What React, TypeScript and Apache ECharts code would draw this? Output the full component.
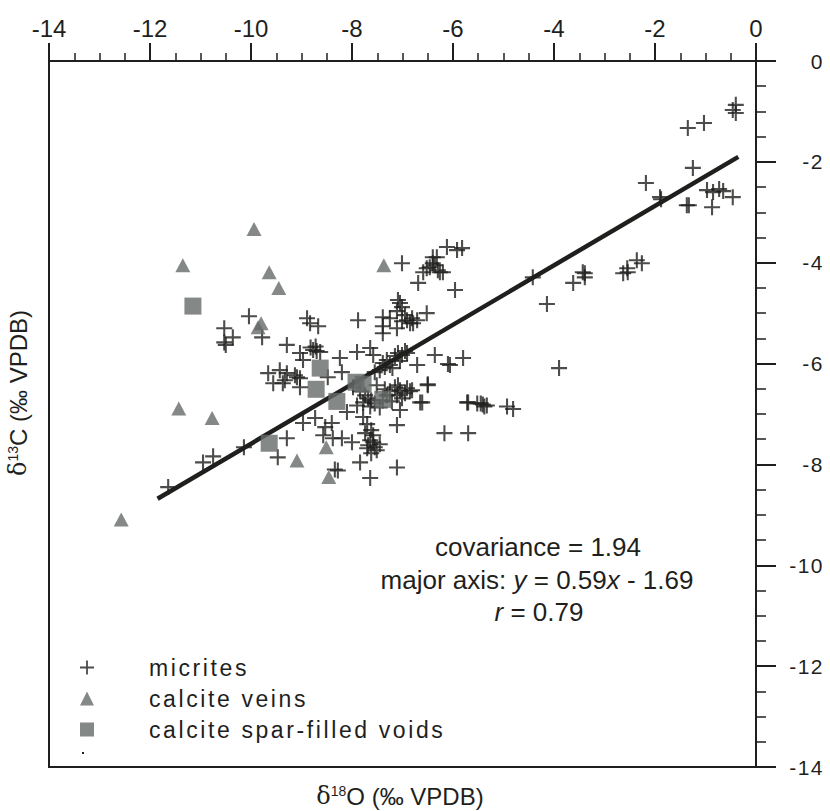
import React, { useEffect, useRef } from "react";
import * as echarts from "echarts";

const xTicks = [-14, -12, -10, -8, -6, -4, -2, 0];
const yTicks = [0, -2, -4, -6, -8, -10, -12, -14];

const micrites: number[][] = [
  [-11.64, -8.45], [-10.95, -7.96], [-10.75, -7.84], [-10.14, -7.66], [-9.47, -7.86], [-9.29, -7.48],
  [-10.04, -5.06], [-10.53, -5.30], [-10.36, -5.48], [-10.53, -5.58], [-10.50, -5.63], [-9.78, -5.48],
  [-9.66, -6.19], [-9.56, -6.39], [-9.43, -6.13], [-9.33, -6.33], [-9.37, -6.39], [-9.29, -6.19], [-9.13, -6.23], [-9.09, -6.27], [-9.03, -6.29], [-9.03, -6.47],
  [-8.89, -5.10], [-8.83, -5.20], [-8.67, -5.26], [-9.29, -5.63], [-9.03, -5.79], [-8.97, -5.93], [-8.77, -5.73], [-8.63, -5.77], [-8.82, -5.68], [-8.72, -5.66], [-8.70, -5.75], [-8.48, -6.27], [-8.20, -6.17], [-8.24, -5.89],
  [-7.90, -5.77], [-7.64, -5.69], [-7.58, -5.83], [-7.39, -5.99], [-7.31, -5.93], [-7.25, -6.03], [-7.15, -5.85], [-7.09, -5.79], [-7.05, -5.95], [-7.01, -5.83], [-6.95, -5.75], [-7.20, -6.09], [-7.45, -6.13], [-7.55, -6.17], [-7.35, -6.07], [-6.91, -5.79],
  [-6.36, -5.83], [-6.06, -6.03], [-5.80, -5.89], [-6.10, -6.01], [-6.71, -6.03], [-6.81, -6.53], [-6.50, -6.43], [-6.50, -6.41],
  [-7.98, -6.47], [-7.84, -6.55], [-7.74, -6.63], [-7.68, -6.69], [-7.62, -6.73], [-7.55, -6.79], [-7.45, -6.87], [-7.39, -6.73], [-7.31, -6.63], [-7.25, -6.55], [-7.15, -6.47], [-7.09, -6.43], [-7.05, -6.53], [-7.01, -6.69], [-6.95, -6.59], [-6.91, -6.49], [-7.21, -6.75], [-7.35, -6.51], [-7.64, -6.85], [-7.78, -6.77], [-7.51, -6.43], [-7.11, -6.63], [-6.85, -6.55], [-7.90, -6.83],
  [-6.61, -6.77], [-6.65, -6.77], [-7.05, -6.92], [-5.72, -6.77], [-5.70, -6.77], [-5.52, -6.79], [-5.41, -6.81], [-5.33, -6.83], [-5.45, -6.79], [-5.38, -6.85], [-4.93, -6.85], [-4.81, -6.90],
  [-8.97, -7.18], [-8.73, -7.08], [-8.53, -7.26], [-8.40, -7.18], [-8.57, -7.42], [-8.38, -7.48], [-8.10, -6.96], [-8.20, -7.48], [-8.00, -7.56],
  [-7.78, -7.06], [-7.70, -7.20], [-7.62, -7.32], [-7.58, -7.42], [-7.64, -7.52], [-7.68, -7.62], [-7.55, -7.66], [-7.51, -7.72], [-7.62, -7.78], [-7.70, -7.68], [-7.45, -7.60], [-7.58, -7.56], [-7.74, -7.38],
  [-7.11, -7.22], [-6.17, -7.38], [-5.70, -7.38], [-8.28, -8.12], [-8.34, -8.10], [-7.84, -7.96], [-7.64, -8.27], [-7.11, -8.06],
  [-7.01, -4.01], [-6.12, -3.69], [-5.92, -3.75], [-5.82, -3.71], [-6.32, -3.89], [-6.40, -3.89], [-6.46, -4.09], [-6.59, -4.19], [-6.40, -4.01], [-6.20, -4.19], [-6.52, -4.11], [-6.36, -4.05], [-6.30, -4.15], [-6.26, -4.19], [-6.69, -4.40], [-5.96, -4.54],
  [-7.88, -5.14], [-7.09, -4.74], [-7.01, -4.88], [-7.05, -4.80], [-7.39, -5.08], [-6.81, -5.10], [-6.52, -5.00], [-7.39, -5.26], [-7.11, -5.30], [-6.79, -5.20], [-7.11, -4.96], [-6.95, -5.04], [-6.91, -5.14], [-7.25, -5.10], [-6.85, -5.20], [-7.01, -5.16], [-6.71, -5.14], [-7.39, -5.40],
  [-4.42, -4.29], [-4.14, -4.82], [-3.90, -6.09], [-3.62, -4.40], [-3.39, -4.29], [-3.43, -4.19], [-3.39, -4.21], [-2.63, -4.21], [-2.55, -4.11], [-2.54, -4.19], [-2.36, -3.95], [-2.26, -4.01],
  [-2.18, -2.42], [-1.90, -2.70], [-1.88, -2.74], [-1.37, -2.86], [-1.33, -2.86], [-1.25, -2.12], [-1.35, -1.33], [-1.03, -1.23],
  [-0.97, -2.56], [-0.85, -2.60], [-0.73, -2.54], [-0.65, -2.58], [-0.87, -2.90], [-0.46, -2.70], [-0.40, -0.87], [-0.46, -0.97], [-0.40, -1.03],
];

const calciteVeins: number[][] = [
  [-9.94, -3.33], [-11.35, -4.05], [-9.64, -4.19], [-9.45, -4.50], [-9.86, -5.28], [-9.80, -5.20],
  [-11.43, -6.89], [-10.77, -7.08], [-12.57, -9.09], [-8.51, -7.66], [-9.09, -7.92], [-8.46, -8.25], [-7.37, -4.05],
];

const sparVoids: number[][] = [
  [-11.15, -4.86], [-9.64, -7.58], [-8.63, -6.09], [-8.71, -6.51], [-8.30, -6.75], [-7.92, -6.37], [-7.78, -6.41], [-7.39, -6.71],
];

const majorAxisLine: number[][] = [
  [-11.85, -8.68],
  [-0.35, -1.90],
];

const PLUS = "path://M4.35,0h1.3v4.35h4.35v1.3h-4.35v4.35h-1.3v-4.35h-4.35v-1.3h4.35z";
const FONT = "'Liberation Sans', Arial, Helvetica, sans-serif";
const INK = "#1f1f1d";
const LEGEND_INK = "#1f1f1e";
const YLAB_INK = "#1f1f1c";
const GREY = "#656a69";

const CSS = `
text[fill="${LEGEND_INK}"], text[fill="rgb(31,31,30)"] { letter-spacing: 2.6px; }
text[fill="${YLAB_INK}"], text[fill="rgb(31,31,28)"] { letter-spacing: 1.5px; }
`;

export default function App() {
  const ref = useRef<HTMLDivElement>(null);
  useEffect(() => {
    document.body.style.margin = "0";
    const chart = echarts.init(ref.current!, null, { renderer: "svg" });
    const superRich = {
      d: { fontSize: 24, fontFamily: "'DejaVu Serif', serif", fill: INK, lineHeight: 24 },
      s: { fontSize: 14, fontFamily: FONT, fill: INK, verticalAlign: "top", lineHeight: 24, padding: [0, 0, 9, 0] },
      m: { fontSize: 24, fontFamily: FONT, fill: INK, lineHeight: 24 },
    };
    const option: any = {
      animation: false,
      backgroundColor: "#ffffff",
      grid: {
        left: 49, right: 74, top: 61, bottom: 44,
        show: true, borderColor: INK, borderWidth: 2,
      },
      xAxis: {
        type: "value", position: "top", min: xTicks[0], max: xTicks[xTicks.length - 1], interval: 2,
        axisLine: { show: true, lineStyle: { color: INK, width: 2 } },
        axisTick: { show: true, length: 18, lineStyle: { color: INK, width: 2 } },
        minorTick: { show: true, splitNumber: 4, length: 8, lineStyle: { color: INK, width: 1.5 } },
        splitLine: { show: false },
        axisLabel: { fontSize: 24, fontFamily: FONT, color: INK, margin: 21 },
      },
      yAxis: {
        type: "value", position: "right", min: yTicks[yTicks.length - 1], max: yTicks[0], interval: 2,
        axisLine: { show: true, lineStyle: { color: INK, width: 2 } },
        axisTick: { show: true, length: 20, lineStyle: { color: INK, width: 2 } },
        minorTick: { show: true, splitNumber: 4, length: 10, lineStyle: { color: INK, width: 1.5 } },
        splitLine: { show: false },
        axisLabel: { fontSize: 21, fontFamily: FONT, color: YLAB_INK, margin: 68, align: "right" },
      },
      legend: {
        orient: "vertical", left: 75, top: 651, itemWidth: 14, itemHeight: 14, itemGap: 8,
        textStyle: { fontSize: 23, fontFamily: FONT, color: LEGEND_INK, padding: [0, 0, 0, 50] },
        data: [
          { name: "micrites", icon: PLUS },
          { name: "calcite veins", icon: "triangle" },
          { name: "calcite spar-filled voids", icon: "rect" },
        ],
      },
      series: [
        {
          name: "major axis", type: "line", data: majorAxisLine, symbol: "none",
          lineStyle: { color: INK, width: 4.5 }, silent: true, z: 1,
        },
        {
          name: "micrites", type: "scatter", data: micrites, symbol: PLUS, symbolSize: 16,
          itemStyle: { color: INK }, z: 2,
        },
        {
          name: "calcite veins", type: "scatter", data: calciteVeins, symbol: "triangle", symbolSize: [15, 14],
          itemStyle: { color: GREY }, z: 3,
        },
        {
          name: "calcite spar-filled voids", type: "scatter", data: sparVoids, symbol: "rect", symbolSize: 17,
          itemStyle: { color: GREY }, z: 4,
        },
      ],
      graphic: [
        { type: "rect", shape: { x: 82, y: 752, width: 2, height: 2 }, style: { fill: INK } },
        {
          type: "text", x: 538, y: 547,
          style: { text: "covariance = 1.94", fontSize: 26, fontFamily: FONT, fill: INK, align: "center", verticalAlign: "middle" },
        },
        {
          type: "text", x: 537, y: 580,
          style: {
            text: "major axis: {i|y} = 0.59{i|x} - 1.69", fontSize: 26, fontFamily: FONT, fill: INK,
            align: "center", verticalAlign: "middle",
            rich: { i: { fontSize: 26, fontFamily: FONT, fontStyle: "italic", fill: INK } },
          },
        },
        {
          type: "text", x: 539, y: 612,
          style: {
            text: "{i|r} = 0.79", fontSize: 26, fontFamily: FONT, fill: INK,
            align: "center", verticalAlign: "middle",
            rich: { i: { fontSize: 26, fontFamily: FONT, fontStyle: "italic", fill: INK } },
          },
        },
        {
          type: "text", x: 400, y: 796,
          style: { text: "{d|δ}{s|18}{m|O (‰ VPDB)}", align: "center", verticalAlign: "middle", fill: INK, rich: superRich },
        },
        {
          type: "text", x: 18, y: 393, rotation: Math.PI / 2,
          style: { text: "{d|δ}{s|13}{m|C (‰ VPDB)}", align: "center", verticalAlign: "middle", fill: INK, rich: superRich },
        },
      ],
    };
    chart.setOption(option);
    return () => chart.dispose();
  }, []);
  return (
    <>
      <style>{CSS}</style>
      <div ref={ref} style={{ width: 830, height: 811 }} />
    </>
  );
}
